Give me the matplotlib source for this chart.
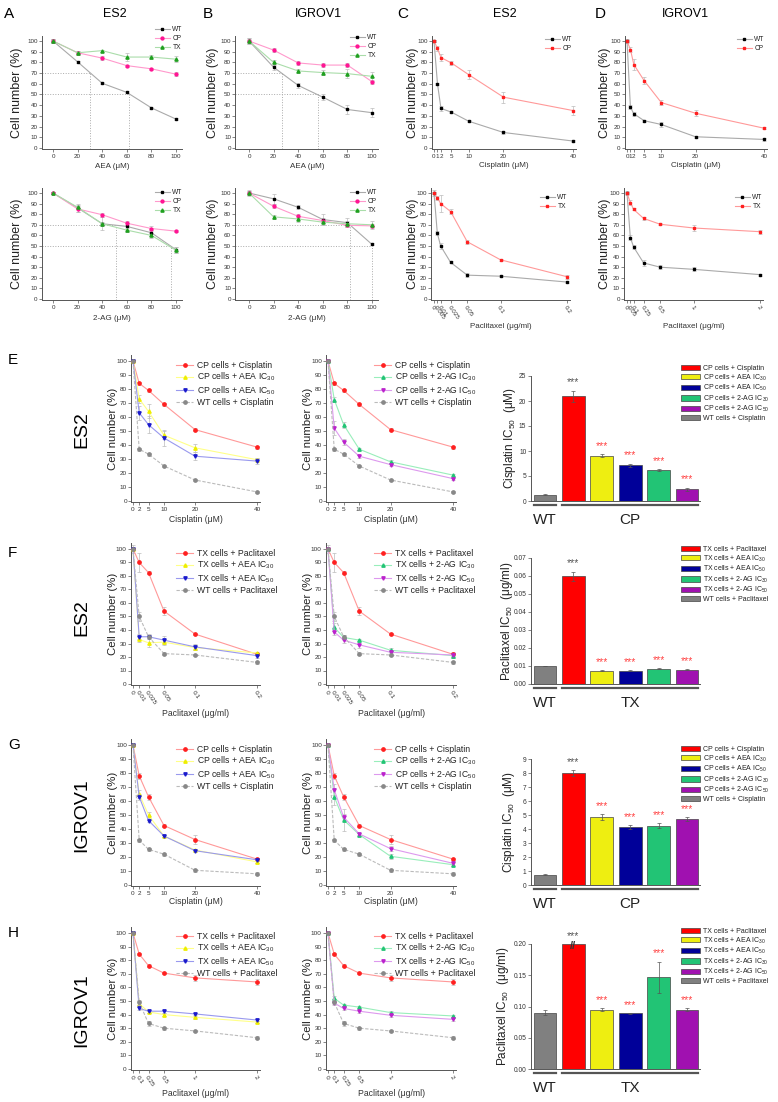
import matplotlib
matplotlib.use("Agg")
import matplotlib.pyplot as plt
import matplotlib.transforms as mtransforms
import numpy as np

plt.rcParams['font.family'] = ['Liberation Sans', 'DejaVu Sans']
plt.rcParams['mathtext.fontset'] = 'custom'
plt.rcParams['mathtext.rm'] = 'Liberation Sans'

# ── Daten ───────────────────────────────────────────────────────────────────
dose_ec = [0, 20, 40, 60, 80, 100]
dose_cis7 = [0, 1, 2, 5, 10, 20, 40]
dose_pac7_es2 = [0, 0.005, 0.01, 0.025, 0.05, 0.1, 0.2]
dose_pac7_igr = [0, 0.05, 0.1, 0.25, 0.5, 1, 2]
dose_cis6 = [0, 2, 5, 10, 20, 40]
dose_pac6_es2 = [0, 0.01, 0.025, 0.05, 0.1, 0.2]
dose_pac6_igr = [0, 0.1, 0.25, 0.5, 1, 2]

# A/B: AEA + 2-AG
a_aea_wt = [100, 80.5, 60.5, 52, 37.5, 27]
a_aea_cp = [100, 89, 84, 77, 74, 69]
a_aea_tx = [100, 89, 91, 85, 85, 83]
b_aea_wt = [100, 75.5, 58.5, 47.5, 36, 33]
b_aea_cp = [100, 91.5, 79.5, 77.5, 77.5, 62]
b_aea_tx = [100, 80, 72, 70.5, 69.5, 67]
a_2ag_wt = [100, 86, 71, 68.5, 62.5, 46.5]
a_2ag_cp = [100, 85, 79.5, 71.5, 66.5, 64]
a_2ag_tx = [100, 86.5, 71, 65, 60, 46]
b_2ag_wt = [100, 94.5, 86.5, 75, 72, 51.5]
b_2ag_cp = [100, 87.5, 78, 74, 69.5, 69]
b_2ag_tx = [100, 77.5, 75.5, 72.5, 71, 70]
a_aea_err = [[2, 1, 1, 1, 1, 1], [2, 2, 2, 1, 1, 2], [2, 2, 1, 4, 2, 3]]
b_aea_err = [[3, 3, 2, 3, 4, 4], [2, 2, 2, 2, 2, 2], [3, 2, 2, 2, 4, 4]]
a_2ag_err = [[1, 4, 6, 3, 3, 3], [1, 3, 2, 2, 2, 1], [1, 2, 2, 2, 2, 3]]
b_2ag_err = [[3, 5, 2, 5, 4, 1], [2, 2, 2, 2, 2, 2], [2, 2, 3, 3, 3, 4]]
ic_a_aea = [30, 62]
ic_b_aea = [26.5, 56]
ic_a_2ag = [51, 96]
ic_b_2ag = [82, 100]

# C/D: Cisplatin, Paclitaxel
c_cis_wt = [100, 60, 37, 33.5, 25, 14.5, 6.5]
c_cis_cp = [100, 93, 84.5, 79.5, 68.5, 47.5, 35]
d_cis_wt = [100, 38, 32, 25.5, 22, 10.5, 8]
d_cis_cp = [100, 92, 78, 63, 42.5, 32.5, 18.5]
c_pac_wt = [100, 62, 50, 34.5, 22.5, 21.5, 16]
c_pac_tx = [100, 95.5, 90, 82.5, 54, 37, 21]
d_pac_wt = [100, 58, 49, 34, 30, 28, 23]
d_pac_tx = [100, 91, 84.5, 76, 70.5, 67, 63.5]
c_cis_err = [[1, 1, 2, 1, 1, 1, 1], [1, 2, 3, 2, 4, 5, 4]]
d_cis_err = [[1, 2, 2, 1, 2, 1, 1], [2, 2, 5, 3, 2, 3, 1]]
c_pac_err = [[1, 2, 3, 1, 2, 1, 1], [3, 2, 8, 2, 2, 1, 2]]
d_pac_err = [[1, 2, 2, 3, 2, 2, 1], [2, 2, 1, 1, 1, 3, 2]]

# E: ES2 Cisplatin
e_drug = [100, 84, 79, 69, 51, 38.5]
e_aea30 = [100, 73, 64, 47, 38, 29.5]
e_aea50 = [100, 63, 54.5, 45, 32, 28.5]
e_wt = [100, 37, 33.5, 25, 15, 6.5]
e_2ag30 = [100, 72.5, 54.5, 37, 28, 18.5]
e_2ag50 = [100, 52, 42, 32, 26, 16]
e_err = [[1, 1, 1, 1, 1, 1], [1, 3, 5, 3, 3, 1], [1, 5, 6, 6, 3, 2],
         [1, 1, 1, 1, 1, 1], [1, 2, 2, 1, 1, 1], [1, 5, 2, 1, 1, 1]]
# F: ES2 Paclitaxel
f_drug = [100, 90, 82.5, 54, 37, 22]
f_aea30 = [100, 33, 30.5, 31, 27, 23]
f_aea50 = [100, 35, 35, 32.5, 27.5, 21]
f_wt = [100, 50, 35, 22.5, 21.5, 16]
f_2ag30 = [100, 42, 34.5, 32.5, 25, 21]
f_2ag50 = [100, 38.5, 32.5, 29, 23.5, 21.5]
f_err = [[3, 7, 1, 3, 1, 1], [1, 2, 3, 2, 2, 1], [1, 2, 2, 3, 2, 2],
         [1, 3, 1, 1, 1, 1], [1, 3, 2, 1, 2, 2], [1, 2, 2, 2, 2, 2]]
# G: IGROV1 Cisplatin
g_drug = [100, 78, 63, 42.5, 32.5, 18.5]
g_aea30 = [100, 65, 50, 35, 25, 16.5]
g_aea50 = [100, 63, 46, 35, 24.5, 18]
g_wt = [100, 32, 25.5, 22, 10.5, 8]
g_2ag30 = [100, 63, 46.5, 36, 20.5, 14.5]
g_2ag50 = [100, 68, 48.5, 36.5, 26, 15.5]
g_err = [[1, 2, 2, 1, 3, 1], [1, 3, 2, 1, 1, 1], [1, 2, 1, 1, 1, 1],
         [1, 1, 1, 1, 1, 1], [1, 6, 8, 1, 2, 1], [1, 4, 2, 1, 2, 1]]
# H: IGROV1 Paclitaxel
h_drug = [100, 84.5, 76, 70.5, 67, 64]
h_aea30 = [100, 48, 42, 40, 38, 34.5]
h_aea50 = [100, 44.5, 42.5, 42.5, 40.5, 36]
h_wt = [100, 49, 33.5, 30, 28, 23]
h_2ag30 = [100, 52, 47, 45.5, 41.5, 39]
h_2ag50 = [100, 48.5, 44.5, 42.5, 39.5, 36.5]
h_err = [[1, 1, 1, 1, 2, 2], [1, 2, 1, 1, 1, 1], [1, 1, 1, 1, 1, 1],
         [1, 2, 2, 1, 1, 1], [1, 2, 1, 1, 1, 1], [1, 1, 1, 1, 1, 1]]

# IC50-Balken: WT, Resistent, +AEA30, +AEA50, +2AG30, +2AG50
e_ic50 = [1.3, 21, 9.1, 7.2, 6.2, 2.4]
e_ic50_err = [0.05, 1.1, 0.3, 0.3, 0.2, 0.3]
f_ic50 = [0.010, 0.060, 0.0075, 0.0075, 0.0085, 0.008]
f_ic50_err = [0.0002, 0.0025, 0.0002, 0.0002, 0.0002, 0.0002]
g_ic50 = [0.75, 8.0, 4.85, 4.15, 4.25, 4.7]
g_ic50_err = [0.03, 0.2, 0.2, 0.15, 0.15, 0.15]
h_ic50 = [0.09, 0.2, 0.095, 0.089, 0.147, 0.095]
h_ic50_err = [0.004, 0.0, 0.002, 0.001, 0.025, 0.002]

# ── Farben ──────────────────────────────────────────────────────────────────
C_ERR = "#bbbbbb"
C_SPINE = "#555555"
BAR_COLS = ["#808080", "#ff0000", "#eeee11", "#000099", "#22c475", "#a011b0"]

W, H = 778, 1102
fig = plt.figure(figsize=(W/100, H/100), dpi=100, facecolor="white")


# ── Hilfsfunktionen ──────────────────────────────────────────────────────────
def place(xlim, ylim, xref, yref, tfs=4.5):
    (dx0, px0), (dx1, px1) = xref
    (dy0, py0), (dy1, py1) = yref
    sx = (px1 - px0) / (dx1 - dx0)
    sy = (py1 - py0) / (dy1 - dy0)
    left = px0 + (xlim[0] - dx0) * sx
    right = px0 + (xlim[1] - dx0) * sx
    bottom = py0 + (ylim[0] - dy0) * sy
    top = py0 + (ylim[1] - dy0) * sy
    ax = fig.add_axes([left/W, 1 - bottom/H, (right-left)/W, (bottom-top)/H])
    ax.set_xlim(xlim); ax.set_ylim(ylim)
    ax._px = (left, top, right, bottom)
    for s in ['top', 'right']:
        ax.spines[s].set_visible(False)
    for s in ['left', 'bottom']:
        ax.spines[s].set_color(C_SPINE); ax.spines[s].set_linewidth(0.7)
    ax.tick_params(length=2, width=0.5, color=C_SPINE, labelsize=tfs, pad=1.2,
                   labelcolor="#333333")
    ax.patch.set_alpha(0)
    return ax


def xlabel_px(ax, txt, y, fs):
    l, t, r, b = ax._px
    ax.set_xlabel(txt, fontsize=fs, va='center', color="#333333")
    ax.xaxis.set_label_coords(0.5, (b - y) / (b - t))


def ylabel_px(ax, txt, x, fs):
    l, t, r, b = ax._px
    ax.set_ylabel(txt, fontsize=fs, va='center', color="#222222")
    ax.yaxis.set_label_coords((x - l) / (r - l), 0.5)


def legend_px(ax, x, y, fs, handles=None, spacing=0.25, hl=1.6, hh=0.7):
    kw = dict(loc='upper left', bbox_to_anchor=(x/W, 1 - y/H),
              bbox_transform=fig.transFigure, frameon=False, fontsize=fs,
              borderpad=0, borderaxespad=0, handlelength=hl, handleheight=hh,
              handletextpad=0.4, labelspacing=spacing)
    if handles is not None:
        leg = ax.legend(handles=handles, **kw)
    else:
        leg = ax.legend(**kw)
    for t in leg.get_texts():
        t.set_color("#222222")
    return leg


def series(ax, x, y, err, lc, mc, marker, label, ms=2.6, ls='-'):
    ax.errorbar(x, y, yerr=err, fmt='none', ecolor=C_ERR, elinewidth=0.5,
                capsize=1.2, capthick=0.5, zorder=2)
    ax.plot(x, y, color=lc, lw=0.8, ls=ls, marker=marker, ms=ms,
            mfc=mc, mec=mc, label=label, zorder=3)


def ic_lines(ax, ics, xmin):
    for lev, ic in zip([70, 50], ics):
        ax.plot([xmin, ic], [lev, lev], ls=':', color="#aaaaaa", lw=0.7, zorder=1)
        ax.plot([ic, ic], [ax.get_ylim()[0], lev], ls=':', color="#aaaaaa",
                lw=0.7, zorder=1)


def ec_panel(ax, wt, cp, tx, errs, ics, leg_xy):
    xlim = ax.get_xlim()
    ic_lines(ax, ics, xlim[0])
    series(ax, dose_ec, wt, errs[0], "#aaaaaa", "black", 's', "WT", ms=2.1)
    series(ax, dose_ec, cp, errs[1], "#ff99cc", "#ff1493", 'o', "CP", ms=2.1)
    series(ax, dose_ec, tx, errs[2], "#aaddaa", "#1fa01f", '^', "TX", ms=2.3)
    ax.set_xticks(dose_ec)
    ax.set_yticks(range(0, 101, 10))
    legend_px(ax, leg_xy[0], leg_xy[1], 4.8, spacing=0.3, hl=2.2)


def drug_panel(ax, x, wt, res, errs, lab, ticks, ticklabels, leg_xy, rot=False):
    series(ax, x, wt, errs[0], "#aaaaaa", "black", 's', "WT", ms=2.1)
    series(ax, x, res, errs[1], "#ff9999", "#ff2020", 's', lab, ms=2.1)
    ax.set_yticks(range(0, 101, 10))
    ax.set_xticks(ticks)
    if rot:
        ax.set_xticklabels(ticklabels, rotation=-55, ha='left', va='top',
                           rotation_mode='anchor')
    else:
        ax.set_xticklabels(ticklabels)
    legend_px(ax, leg_xy[0], leg_xy[1], 4.8, spacing=0.3, hl=2.2)


LINE_STY = {
    'drug': ("#ff9999", "#ff2020", 'o'),
    'aea30': ("#ffff88", "#eeee00", '^'),
    'aea50': ("#9999ee", "#1a1acc", 'v'),
    'wt': ("#bbbbbb", "#888888", 'o'),
    '2ag30': ("#99eebb", "#22c475", '^'),
    '2ag50': ("#dd99ee", "#bb22cc", 'v'),
}


def combo_panel(ax, x, data, errs, labels, keys, ticks, ticklabels, leg_xy, rot):
    for y, e, lab, k in zip(data, errs, labels, keys):
        lc, mc, mk = LINE_STY[k]
        series(ax, x, y, e, lc, mc, mk, lab, ms=2.4,
               ls=(0, (3, 1.5)) if k == 'wt' else '-')
    ax.set_yticks(range(0, 101, 10))
    ax.set_xticks(ticks)
    if rot:
        ax.set_xticklabels(ticklabels, rotation=-55, ha='left', va='top',
                           rotation_mode='anchor')
    else:
        ax.set_xticklabels(ticklabels)
    legend_px(ax, leg_xy[0], leg_xy[1], 6.2, spacing=0.1, hl=2.0)


def bar_panel(ax, vals, errs, labels, ylab, ylab_x, groups, cut=False):
    pos = np.arange(len(vals))
    bars = []
    for i, (v, e) in enumerate(zip(vals, errs)):
        b = ax.bar(pos[i], v, width=0.8, color=BAR_COLS[i], edgecolor="#444444",
                   lw=0.5, yerr=e if e > 0 else None,
                   error_kw=dict(ecolor="#555555", elinewidth=0.5, capsize=1.2,
                                 capthick=0.5), label=labels[i], zorder=2)
        bars.append(b)
    ytop = ax.get_ylim()[1]
    for i in range(1, len(vals)):
        col = "#555555" if i == 1 else "#ff4444"
        ax.text(pos[i], vals[i] + errs[i] + 0.025 * ytop, "***", ha='center',
                va='bottom', fontsize=7.5, color=col, clip_on=False)
    if cut:
        ax.text(pos[1], vals[1] - 0.015 * ytop, "//", ha='center', va='center',
                fontsize=8, color="#333333", fontweight='bold')
    ax.set_xticks([])
    ylabel_px(ax, ylab, ylab_x, 8.5)
    trans = mtransforms.blended_transform_factory(ax.transData, ax.transAxes)
    l, t, r, b = ax._px
    hpx = b - t
    for (i0, i1, name) in groups:
        ax.plot([pos[i0] - 0.4, pos[i1] + 0.4], [-4/hpx, -4/hpx], color="#555555",
                lw=1.6, transform=trans, clip_on=False)
        ax.text((pos[i0] + pos[i1]) / 2, -19/hpx, name, transform=trans,
                ha='center', va='center', fontsize=11, color="#222222")
    handles = [bars[i] for i in [1, 2, 3, 4, 5, 0]]
    return handles


def bar_legend(ax, handles, x, y):
    leg = legend_px(ax, x, y, 5.0, handles=handles, spacing=0.05, hl=2.8,
                    hh=0.75)
    return leg


# ── Zeile 1/2: A–D ───────────────────────────────────────────────────────────
YTOP = ((0, 148), (100, 41))
YBOT = ((0, 299), (100, 193))
XA = ((0, 53), (100, 176))
XB = ((0, 249), (100, 372))
XC = ((0, 434), (40, 573))
XD = ((0, 627), (40, 764))

axA1 = place((-9, 105), (-1, 105), XA, YTOP)
ec_panel(axA1, a_aea_wt, a_aea_cp, a_aea_tx, a_aea_err, ic_a_aea, (155, 26))
axB1 = place((-11, 105), (-1, 105), XB, YTOP)
ec_panel(axB1, b_aea_wt, b_aea_cp, b_aea_tx, b_aea_err, ic_b_aea, (350, 34))
axA2 = place((-9, 105), (-1, 105), XA, YBOT)
ec_panel(axA2, a_2ag_wt, a_2ag_cp, a_2ag_tx, a_2ag_err, ic_a_2ag, (155, 189))
axB2 = place((-11, 105), (-1, 105), XB, YBOT)
ec_panel(axB2, b_2ag_wt, b_2ag_cp, b_2ag_tx, b_2ag_err, ic_b_2ag, (350, 189))
for ax in [axA1, axB1]:
    xlabel_px(ax, "AEA (μM)", 167, 5.8)
for ax in [axA2, axB2]:
    xlabel_px(ax, "2-AG (μM)", 318, 5.8)

cis7_lab = [str(v) for v in dose_cis7]
axC1 = place((-0.6, 41), (-1, 105), XC, YTOP)
drug_panel(axC1, dose_cis7, c_cis_wt, c_cis_cp, c_cis_err, "CP", dose_cis7,
           cis7_lab, (545, 36))
axD1 = place((-0.6, 41), (-1, 105), XD, YTOP)
drug_panel(axD1, dose_cis7, d_cis_wt, d_cis_cp, d_cis_err, "CP", dose_cis7,
           cis7_lab, (737, 36))
for ax in [axC1, axD1]:
    xlabel_px(ax, "Cisplatin (μM)", 166, 5.8)

axC2 = place((-0.004, 0.205), (-1, 105), ((0, 434), (0.2, 567)), YBOT)
drug_panel(axC2, dose_pac7_es2, c_pac_wt, c_pac_tx, c_pac_err, "TX",
           dose_pac7_es2, [str(v) for v in dose_pac7_es2], (540, 194), rot=True)
axD2 = place((-0.04, 2.05), (-1, 105), ((0, 627), (2, 760)), YBOT)
drug_panel(axD2, dose_pac7_igr, d_pac_wt, d_pac_tx, d_pac_err, "TX",
           dose_pac7_igr, [str(v) for v in dose_pac7_igr], (735, 194), rot=True)
for ax in [axC2, axD2]:
    xlabel_px(ax, "Paclitaxel (μg/ml)", 327, 5.8)

for ax, x in [(axA1, 17), (axB1, 213), (axC1, 413), (axD1, 605),
              (axA2, 17), (axB2, 213), (axC2, 413), (axD2, 605)]:
    ylabel_px(ax, "Cell number (%)", x, 9)

for lab, x in [("A", 4), ("B", 203), ("C", 397), ("D", 595)]:
    fig.text(x/W, 1 - 14/H, lab, fontsize=11, va='center', ha='left')
for lab, x in [("ES2", 115), ("IGROV1", 318), ("ES2", 505), ("IGROV1", 685)]:
    fig.text(x/W, 1 - 14/H, lab, fontsize=9, va='center', ha='center')

# ── Zeilen E–H ───────────────────────────────────────────────────────────────
rows = [
    dict(tag="E", cell="ES2", res="CP", drug="Cisplatin", y0=501, y100=361,
         x=dose_cis6, xmax=40, xlim=(-0.5, 41), ticks=dose_cis6,
         tl=[str(v) for v in dose_cis6], rot=False, xlab="Cisplatin (μM)",
         xlab_y=519, data=[e_drug, e_aea30, e_aea50, e_wt, e_2ag30, e_2ag50],
         err=e_err, ic=e_ic50, ic_err=e_ic50_err, bar_y=((0, 501), (25, 376)),
         bar_ylim=(0, 25), bar_ylab="Cisplatin IC$_{50}$  (μM)", bar_ylab_x=510,
         leg_y=361, bleg_y=365, lab_y=360, cell_y=430, cut=False),
    dict(tag="F", cell="ES2", res="TX", drug="Paclitaxel", y0=684, y100=549,
         x=dose_pac6_es2, xmax=0.2, xlim=(-0.003, 0.205), ticks=dose_pac6_es2,
         tl=[str(v) for v in dose_pac6_es2], rot=True, xlab="Paclitaxel (μg/ml)",
         xlab_y=713, data=[f_drug, f_aea30, f_aea50, f_wt, f_2ag30, f_2ag50],
         err=f_err, ic=f_ic50, ic_err=f_ic50_err, bar_y=((0, 684), (0.07, 558)),
         bar_ylim=(0, 0.07), bar_ylab="Paclitaxel IC$_{50}$  (μg/ml)",
         bar_ylab_x=507, leg_y=549, bleg_y=546, lab_y=553, cell_y=618, cut=False),
    dict(tag="G", cell="IGROV1", res="CP", drug="Cisplatin", y0=885, y100=745,
         x=dose_cis6, xmax=40, xlim=(-0.5, 41), ticks=dose_cis6,
         tl=[str(v) for v in dose_cis6], rot=False, xlab="Cisplatin (μM)",
         xlab_y=902, data=[g_drug, g_aea30, g_aea50, g_wt, g_2ag30, g_2ag50],
         err=g_err, ic=g_ic50, ic_err=g_ic50_err, bar_y=((0, 885), (9, 759)),
         bar_ylim=(0, 9), bar_ylab="Cisplatin IC$_{50}$  (μM)", bar_ylab_x=509,
         leg_y=745, bleg_y=746, lab_y=745, cell_y=815, cut=False),
    dict(tag="H", cell="IGROV1", res="TX", drug="Paclitaxel", y0=1069, y100=933,
         x=dose_pac6_igr, xmax=2, xlim=(-0.03, 2.05), ticks=dose_pac6_igr,
         tl=[str(v) for v in dose_pac6_igr], rot=True, xlab="Paclitaxel (μg/ml)",
         xlab_y=1094, data=[h_drug, h_aea30, h_aea50, h_wt, h_2ag30, h_2ag50],
         err=h_err, ic=h_ic50, ic_err=h_ic50_err, bar_y=((0, 1069), (0.2, 944)),
         bar_ylim=(0, 0.2), bar_ylab="Paclitaxel IC$_{50}$  (μg/ml)",
         bar_ylab_x=503, leg_y=932, bleg_y=928, lab_y=933, cell_y=1010, cut=True),
]

KEYS = ['drug', 'aea30', 'aea50', 'wt', '2ag30', '2ag50']
for r in rows:
    res, drug = r["res"], r["drug"]
    names = [f"{res} cells + {drug}", f"{res} cells + AEA IC$_{{30}}$",
             f"{res} cells + AEA IC$_{{50}}$", f"WT cells + {drug}",
             f"{res} cells + 2-AG IC$_{{30}}$", f"{res} cells + 2-AG IC$_{{50}}$"]
    yref = ((0, r["y0"]), (100, r["y100"]))
    for px0, pxm, sel, lx in [(133, 257, [0, 1, 2, 3], 176),
                              (328, 453, [0, 4, 5, 3], 374)]:
        ax = place(r["xlim"], (-1, 104.5), ((0, px0), (r["xmax"], pxm)), yref,
                   tfs=4.6)
        combo_panel(ax, r["x"], [r["data"][i] for i in sel],
                    [r["err"][i] for i in sel], [names[i] for i in sel],
                    [KEYS[i] for i in sel], r["ticks"], r["tl"],
                    (lx, r["leg_y"]), r["rot"])
        xlabel_px(ax, r["xlab"], r["xlab_y"], 6.2)
        ylabel_px(ax, "Cell number (%)", px0 - 20, 8.2)

    bx = place((-0.5, 5.45), r["bar_ylim"], ((0, 545), (5, 687)), r["bar_y"],
               tfs=4.8)
    bnames = [f"WT cells + {drug}", f"{res} cells + {drug}",
              f"{res} cells + AEA IC$_{{30}}$", f"{res} cells + AEA IC$_{{50}}$",
              f"{res} cells + 2-AG IC$_{{30}}$", f"{res} cells + 2-AG IC$_{{50}}$"]
    hs = bar_panel(bx, r["ic"], r["ic_err"], bnames, r["bar_ylab"],
                   r["bar_ylab_x"], [(0, 0, "WT"), (1, 5, res)], cut=r["cut"])
    bar_legend(bx, hs, 681, r["bleg_y"])
    if r["tag"] == "F":
        bx.set_yticks(np.arange(0, 0.071, 0.01))
        bx.yaxis.set_major_formatter(plt.FormatStrFormatter('%.2f'))
    if r["tag"] == "H":
        bx.set_yticks(np.arange(0, 0.201, 0.05))
        bx.yaxis.set_major_formatter(plt.FormatStrFormatter('%.2f'))
    if r["tag"] == "G":
        bx.set_yticks(range(0, 10))

    fig.text(8/W, 1 - r["lab_y"]/H, r["tag"], fontsize=11, va='center', ha='left')
    fig.text(82/W, 1 - r["cell_y"]/H, r["cell"], fontsize=14, rotation=90,
             va='center', ha='center')

fig.savefig("out.png", dpi=100, facecolor="white")
